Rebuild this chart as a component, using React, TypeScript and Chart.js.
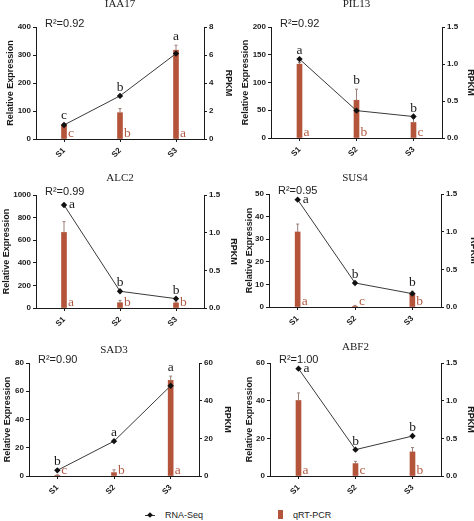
import { useEffect, useRef } from 'react';
import { Chart, registerables } from 'chart.js';

Chart.register(...registerables);

// ---- data ----
const stages = ['S1', 'S2', 'S3'];
const genes = ['IAA17', 'PIL13', 'ALC2', 'SUS4', 'SAD3', 'ABF2'];
const rSquared = ['0.92', '0.92', '0.99', '0.95', '0.90', '1.00'];

// qRT-PCR relative expression (bars) and error
const qpcr = [
  [50, 94, 317],
  [133, 68, 28],
  [669, 47, 45],
  [33.2, 0.3, 6.2],
  [0.5, 2.4, 67.7],
  [40.1, 6.6, 12.8],
];
const qpcrErr = [
  [4, 15, 18],
  [3, 20, 7],
  [95, 20, 10],
  [3.5, 0.4, 0.8],
  [0.3, 2, 3],
  [4, 1.2, 2.3],
];

// RNA-Seq RPKM (line)
const rnaSeq = [
  [1.0, 3.08, 6.1],
  [1.066, 0.37, 0.29],
  [1.367, 0.222, 0.124],
  [1.425, 0.319, 0.177],
  [3.0, 18.5, 47.9],
  [1.425, 0.35, 0.53],
];

const rnaLetters = [
  ['c', 'b', 'a'],
  ['a', 'b', 'b'],
  ['a', 'b', 'b'],
  ['a', 'b', 'b'],
  ['b', 'a', 'a'],
  ['a', 'b', 'b'],
];
const qpcrLetters = [
  ['c', 'b', 'a'],
  ['a', 'b', 'c'],
  ['a', 'b', 'b'],
  ['a', 'c', 'b'],
  ['c', 'b', 'a'],
  ['a', 'c', 'b'],
];

// axis ranges
const leftMax = [400, 200, 1000, 50, 80, 60];
const leftStep = [100, 50, 200, 10, 20, 20];
const rightMax = [8, 1.5, 1.5, 1.5, 60, 1.5];
const rightStep = [2, 0.5, 0.5, 0.5, 20, 0.5];

// ---- look ----
const SANS = 'Arial, "Liberation Sans", sans-serif';
const SERIF = '"Times New Roman", "Liberation Serif", serif';
const BAR = '#b4553b';
const BAR_LETTER = '#b25a43';
const ERR = '#9a8078';
const INK = '#1a1a1a';

const PANEL_W = 237;
const PANEL_H = 165;

// plot area of each panel inside its own canvas
const boxes = [
  { col: 0, row: 0, left: 36, right: 204, top: 27, bottom: 139, titleY: 4, leftTitleX: 11, rightTitleX: 228 },
  { col: 1, row: 0, left: 34, right: 205, top: 27, bottom: 138, titleY: 4, leftTitleX: 9, rightTitleX: 233 },
  { col: 0, row: 1, left: 36, right: 204, top: 30, bottom: 143, titleY: 13, leftTitleX: 7, rightTitleX: 233 },
  { col: 1, row: 1, left: 32, right: 204, top: 29, bottom: 142, titleY: 13, leftTitleX: 13, rightTitleX: 236 },
  { col: 0, row: 2, left: 29, right: 199, top: 33, bottom: 146, titleY: 20, leftTitleX: 8, rightTitleX: 227 },
  { col: 1, row: 2, left: 33, right: 204, top: 33, bottom: 146, titleY: 17, leftTitleX: 13, rightTitleX: 233 },
];

const tickFont = { family: SANS, size: 8, weight: 'bold' as const };

function Panel({ i }: { i: number }) {
  const canvasRef = useRef<HTMLCanvasElement>(null);
  const box = boxes[i];

  useEffect(() => {
    if (!canvasRef.current) return;
    const vals = qpcr[i];
    const errs = qpcrErr[i];

    const annotate = {
      id: 'annotate',
      // error bars right after the bars, so the line stays on top
      afterDatasetDraw(chart: any, args: any) {
        if (args.index !== 0) return;
        const { ctx } = chart;
        const y = chart.scales.y;
        ctx.save();
        ctx.strokeStyle = ERR;
        ctx.lineWidth = 1;
        chart.getDatasetMeta(0).data.forEach((bar: any, k: number) => {
          const top = y.getPixelForValue(vals[k] + errs[k]);
          ctx.beginPath();
          ctx.moveTo(bar.x, bar.y);
          ctx.lineTo(bar.x, top);
          ctx.moveTo(bar.x - 1.5, top);
          ctx.lineTo(bar.x + 1.5, top);
          ctx.stroke();
        });
        ctx.restore();
      },
      afterDraw(chart: any) {
        const { ctx, chartArea } = chart;
        const { left, right, top, bottom } = chartArea;
        const midX = (left + right) / 2;
        const midY = (top + bottom) / 2;
        ctx.save();

        ctx.fillStyle = '#222';
        ctx.textBaseline = 'middle';
        ctx.textAlign = 'center';
        ctx.font = `11px ${SERIF}`;
        ctx.fillText(genes[i], midX, box.titleY);

        ctx.textAlign = 'left';
        ctx.font = `11px ${SANS}`;
        ctx.fillText(`R²=${rSquared[i]}`, left + 9, top - 3);

        ctx.fillStyle = INK;
        ctx.textAlign = 'center';
        ctx.font = `bold 9px ${SANS}`;
        ctx.save();
        ctx.translate(box.leftTitleX, midY);
        ctx.rotate(-Math.PI / 2);
        ctx.fillText('Relative Expression', 0, 0);
        ctx.restore();
        ctx.save();
        ctx.translate(box.rightTitleX, midY);
        ctx.rotate(Math.PI / 2);
        ctx.fillText('RPKM', 0, 0);
        ctx.restore();

        // significance letters
        const y = chart.scales.y;
        ctx.textBaseline = 'alphabetic';
        ctx.font = `13.5px ${SERIF}`;
        chart.getDatasetMeta(1).data.forEach((p: any, k: number) => {
          ctx.fillStyle = INK;
          if (p.y - top < 15) {
            ctx.textAlign = 'left';
            ctx.fillText(rnaLetters[i][k], p.x + 5, p.y + 3);
          } else {
            const errTop = y.getPixelForValue(vals[k] + errs[k]);
            ctx.textAlign = 'center';
            ctx.fillText(rnaLetters[i][k], p.x, Math.min(p.y, errTop) - 5);
          }
        });
        ctx.fillStyle = BAR_LETTER;
        ctx.textAlign = 'left';
        chart.getDatasetMeta(0).data.forEach((b: any, k: number) => {
          ctx.fillText(qpcrLetters[i][k], b.x + 4, bottom - 2);
        });
        ctx.restore();
      },
    };

    const fmt = (step: number) => (v: any) => (step < 1 ? Number(v).toFixed(1) : String(v));

    const chart = new Chart(canvasRef.current, {
      type: 'bar',
      data: {
        labels: stages,
        datasets: [
          {
            type: 'bar',
            label: 'qRT-PCR',
            data: vals,
            yAxisID: 'y',
            backgroundColor: BAR,
            barThickness: 5,
            order: 1,
          },
          {
            type: 'line',
            label: 'RNA-Seq',
            data: rnaSeq[i],
            yAxisID: 'y1',
            borderColor: '#3a3a3a',
            borderWidth: 1,
            pointStyle: 'rectRot',
            pointRadius: 3.2,
            pointBackgroundColor: '#111',
            pointBorderColor: '#111',
            pointBorderWidth: 0,
            tension: 0,
            clip: false,
            order: 0,
          },
        ] as any,
      },
      options: {
        animation: false,
        responsive: true,
        maintainAspectRatio: false,
        layout: { padding: { top: box.top, left: 0, right: 0, bottom: 0 } },
        plugins: { legend: { display: false }, tooltip: { enabled: false } },
        scales: {
          x: {
            offset: true,
            grid: { offset: false, drawOnChartArea: false, tickLength: 3, color: INK },
            border: { color: INK, width: 1 },
            ticks: { color: INK, font: tickFont, minRotation: 45, maxRotation: 45, padding: 4 },
            afterFit: (s: any) => {
              s.height = PANEL_H - box.bottom;
            },
          },
          y: {
            position: 'left',
            min: 0,
            max: leftMax[i],
            grid: { drawOnChartArea: false, tickLength: 3, color: INK },
            border: { color: INK, width: 1 },
            ticks: { stepSize: leftStep[i], color: INK, font: tickFont, padding: 2, callback: fmt(leftStep[i]) },
            afterFit: (s: any) => {
              s.width = box.left;
            },
          },
          y1: {
            position: 'right',
            min: 0,
            max: rightMax[i],
            grid: { drawOnChartArea: false, tickLength: 3, color: INK },
            border: { color: INK, width: 1 },
            ticks: { stepSize: rightStep[i], color: INK, font: tickFont, padding: 2, callback: fmt(rightStep[i]) },
            afterFit: (s: any) => {
              s.width = PANEL_W - box.right;
            },
          },
        },
      } as any,
      plugins: [annotate],
    });

    return () => chart.destroy();
  }, [i]);

  return (
    <div
      style={{
        position: 'absolute',
        left: box.col * PANEL_W,
        top: box.row * PANEL_H,
        width: PANEL_W,
        height: PANEL_H,
      }}
    >
      <canvas ref={canvasRef} />
    </div>
  );
}

export default function App() {
  const legendText = { position: 'absolute' as const, top: 510, font: `9px ${SANS}`, lineHeight: '10px', color: '#222' };
  return (
    <div style={{ position: 'absolute', left: 0, top: 0, width: 474, height: 521, background: '#fff', overflow: 'hidden' }}>
      {genes.map((g, i) => (
        <Panel key={g} i={i} />
      ))}
      {/* legend */}
      <div style={{ position: 'absolute', left: 145, top: 514.5, width: 10, height: 1, background: '#333' }} />
      <div style={{ position: 'absolute', left: 148, top: 512.5, width: 4, height: 4, background: '#111', transform: 'rotate(45deg)' }} />
      <span style={{ ...legendText, left: 165 }}>RNA-Seq</span>
      <div style={{ position: 'absolute', left: 278, top: 510, width: 5, height: 9, background: BAR }} />
      <span style={{ ...legendText, left: 293 }}>qRT-PCR</span>
    </div>
  );
}
